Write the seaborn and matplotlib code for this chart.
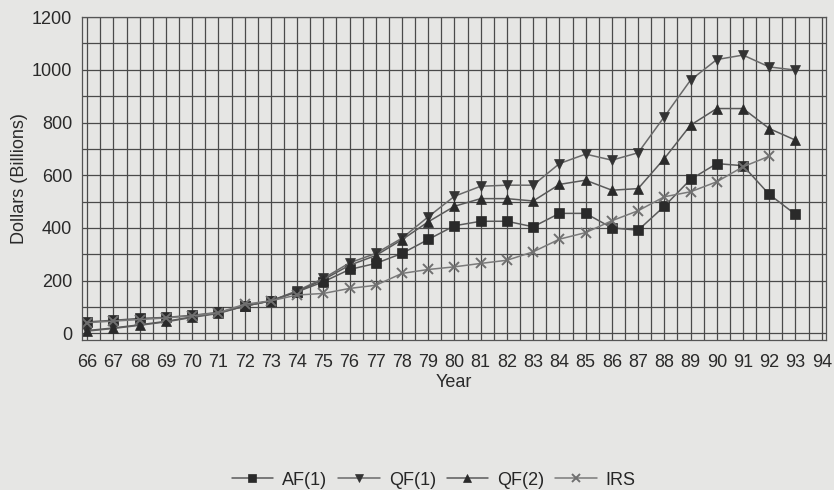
import numpy as np
import pandas as pd
import matplotlib
matplotlib.use("Agg")
import matplotlib.pyplot as plt
import seaborn as sns
from matplotlib.ticker import MultipleLocator

years = list(range(66, 94))
af1 = [43, 49, 56, 60, 68, 79, 103, 123, 157, 195, 242, 265, 303, 356, 408, 425, 425, 404,
       455, 455, 400, 391, 482, 584, 644, 636, 527, 451]
qf1 = [8, 18, 30, 43, 60, 75, 103, 123, 161, 208, 267, 303, 361, 442, 520, 558, 562, 562,
       644, 680, 657, 685, 822, 961, 1039, 1056, 1011, 999]
qf2 = [10, 20, 32, 45, 62, 77, 103, 123, 158, 203, 258, 295, 355, 423, 482, 511, 511, 502,
       565, 581, 543, 549, 663, 790, 853, 853, 777, 733]
irs = [40, 46, 52, 58, 66, 78, 110, 123, 145, 151, 170, 182, 227, 242, 252, 265, 277, 309,
       357, 382, 427, 465, 518, 537, 575, 632, 672, np.nan]
series_names = ["AF(1)", "QF(1)", "QF(2)", "IRS"]
x_ticks = list(range(66, 95))
y_ticks = list(range(0, 1201, 200))

sns.set_theme(style="white")
plt.rcParams["font.family"] = ["Liberation Sans", "DejaVu Sans"]
bg = "#e6e6e4"
fig = plt.figure(figsize=(8.34, 4.9), dpi=100, facecolor=bg)
ax = fig.add_axes([0.0983, 0.306, 0.8917, 0.659])
ax.set_facecolor(bg)

line_colors = ["#5a5a5a", "#6a6a6a", "#5a5a5a", "#7a7a7a"]
marker_colors = ["#2a2a2a", "#333333", "#2a2a2a", "#707070"]
markers = ["s", "v", "^", "x"]
for name, vals, lc, mc, m in zip(series_names, [af1, qf1, qf2, irs], line_colors, marker_colors, markers):
    d = pd.DataFrame({"Year": years, "Value": vals}).dropna()
    sns.lineplot(data=d, x="Year", y="Value", color=lc, marker=m, markersize=7.5,
                 markerfacecolor=mc, markeredgecolor=mc,
                 markeredgewidth=1.4 if m == "x" else 0.5,
                 linewidth=1.1, ax=ax, label=name)

ax.set_xlim(65.8, 94.15)
ax.set_ylim(-26, 1200)
ax.set_xticks(x_ticks)
ax.set_xticklabels([str(t) for t in x_ticks])
ax.set_yticks(y_ticks)
ax.xaxis.set_minor_locator(MultipleLocator(0.5))
ax.yaxis.set_minor_locator(MultipleLocator(100))
ax.grid(True, which="both", color="#4a4a4a", linewidth=0.9)
ax.set_axisbelow(True)
for s in ax.spines.values():
    s.set_color("#555555")
    s.set_linewidth(0.9)
ax.tick_params(axis="both", which="both", length=0, labelsize=13, colors="#2a2a2a")
ax.tick_params(axis="x", pad=10)
ax.tick_params(axis="y", pad=7)
ax.set_xlabel("Year", fontsize=13, color="#2a2a2a", labelpad=2)
ax.set_ylabel("Dollars (Billions)", fontsize=13, color="#2a2a2a", labelpad=3)

handles, labels = ax.get_legend_handles_labels()
ax.legend(handles, labels, loc="center", bbox_to_anchor=(0.52, 1 - 480 / 490),
          bbox_transform=fig.transFigure, ncol=4, frameon=False, fontsize=13,
          handlelength=2.3, columnspacing=0.6, handletextpad=0.5, markerscale=0.7)

fig.savefig("out.png", dpi=100, facecolor=bg)
